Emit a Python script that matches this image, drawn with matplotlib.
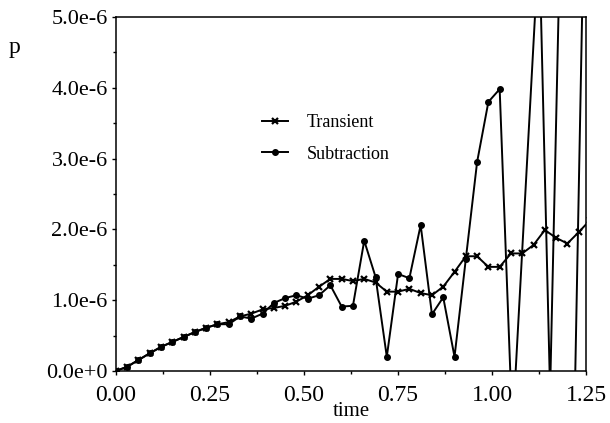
import matplotlib
matplotlib.use("Agg")
import matplotlib.pyplot as plt
import numpy as np
from matplotlib.ticker import MultipleLocator, FuncFormatter

plt.rcParams['font.family'] = ['Liberation Serif', 'DejaVu Serif']

# tempos de amostragem (passo 0.03)
tempo = np.linspace(0, 1.26, 43)

# Transient (x 1e-6)
transient = [0.00, 0.06, 0.155, 0.25, 0.34, 0.41, 0.48, 0.55, 0.61, 0.66,
             0.69, 0.77, 0.81, 0.87, 0.89, 0.92, 0.98, 1.07, 1.19, 1.30,
             1.30, 1.27, 1.30, 1.25, 1.12, 1.12, 1.16, 1.10, 1.07, 1.19,
             1.40, 1.62, 1.62, 1.47, 1.47, 1.66, 1.66, 1.78, 1.99, 1.88,
             1.80, 1.96, 2.13]

# Subtraction (x 1e-6), ate t = 1.02
subtraction = [0.00, 0.06, 0.155, 0.25, 0.34, 0.41, 0.48, 0.55, 0.61, 0.66,
               0.66, 0.77, 0.74, 0.81, 0.96, 1.03, 1.07, 1.02, 1.07, 1.21,
               0.91, 0.92, 1.84, 1.33, 0.20, 1.37, 1.31, 2.06, 0.80, 1.04,
               0.20, 1.58, 2.95, 3.80, 3.98]

# parte divergente (fora da escala), estimada pelos tracos visiveis
cauda_tempo = [1.054, 1.125, 1.154, 1.18, np.nan, 1.215, 1.245]
cauda_valor = [-0.83, 6.1, -0.3, 5.9, np.nan, -1.67, 6.67]

t_sub = np.concatenate([tempo[:len(subtraction)], cauda_tempo])
v_sub = np.concatenate([subtraction, cauda_valor]) * 1e-6
v_tr = np.array(transient) * 1e-6


def fmt_y(v, pos):
    if abs(v) < 1e-12:
        return "0.0e+0"
    m, e = f"{v:.1e}".split("e")
    return f"{m}e{int(e)}"


fig = plt.figure(figsize=(6.1, 4.23), dpi=100)
ax = fig.add_axes([0.190, 0.123, 0.771, 0.837])

ax.plot(tempo, v_tr, color='black', lw=1.4, marker='x', ms=4, mew=1.6,
        label='Transient')
ax.plot(t_sub, v_sub, color='black', lw=1.4, marker='o', ms=4,
        label='Subtraction')

ax.set_xlim(0, 1.25)
ax.set_ylim(0, 5e-6)
ax.xaxis.set_major_locator(MultipleLocator(0.25))
ax.xaxis.set_minor_locator(MultipleLocator(0.125))
ax.yaxis.set_major_locator(MultipleLocator(1e-6))
ax.yaxis.set_minor_locator(MultipleLocator(0.5e-6))
ax.xaxis.set_major_formatter(FuncFormatter(lambda v, p: f"{v:.2f}"))
ax.yaxis.set_major_formatter(FuncFormatter(fmt_y))

ax.tick_params(axis='x', which='major', length=3, width=1, pad=7, labelsize=17)
ax.tick_params(axis='y', which='major', length=3, width=1, pad=3, labelsize=16)
ax.tick_params(which='minor', length=2, width=1)
for s in ax.spines.values():
    s.set_linewidth(1.1)

ax.set_xlabel('time', fontsize=15, labelpad=-3)
fig.text(0.014, 0.887, 'p', fontsize=17, ha='left', va='center')

ax.legend(loc='upper left', bbox_to_anchor=(0.311, 0.725), frameon=False,
          fontsize=13, handlelength=1.45, handletextpad=1.0, labelspacing=0.8,
          numpoints=1, borderpad=0, borderaxespad=0)

plt.savefig('out.png', dpi=100)
